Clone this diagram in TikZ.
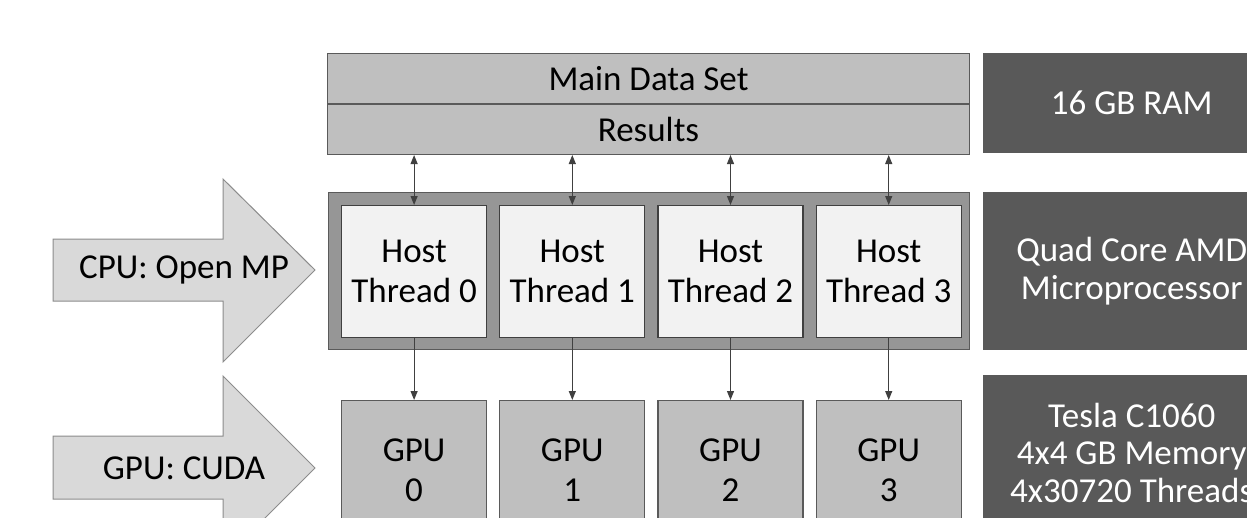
\documentclass[tikz,border=0pt]{standalone}
\usepackage{fontspec}
\setmainfont{Carlito}
\usepackage{tikz}
\usetikzlibrary{positioning}
\usetikzlibrary{arrows.meta}
\definecolor{memFill}{HTML}{BFBFBF}
\definecolor{memBorder}{HTML}{5A5A5A}
\definecolor{hostFill}{HTML}{969696}
\definecolor{threadFill}{HTML}{F2F2F2}
\definecolor{infoFill}{HTML}{595959}
\definecolor{bigFill}{HTML}{D9D9D9}
\definecolor{bigBorder}{HTML}{8C8C8C}
\definecolor{linkColor}{HTML}{404040}
\tikzstyle{boxtext} = [font={\fontsize{35}{40}\selectfont}, align=center, inner sep=0pt]
\tikzstyle{memory} = [boxtext, rectangle, draw=memBorder, fill=memFill, line width=1pt,
        minimum width=642pt, minimum height=50pt]
\tikzstyle{host} = [rectangle, draw=memBorder, fill=hostFill, line width=1.2pt,
        minimum width=641pt, minimum height=157pt, inner sep=0pt]
\tikzstyle{thread} = [boxtext, rectangle, draw=linkColor, fill=threadFill, line width=1.2pt,
        minimum width=145pt, minimum height=132pt]
\tikzstyle{gpu} = [boxtext, rectangle, draw=memBorder, fill=memFill, line width=1.2pt,
        minimum width=145pt, minimum height=140pt]
\tikzstyle{info} = [boxtext, rectangle, fill=infoFill, text=white,
        font={\fontsize{35}{37.5}\selectfont}, minimum width=297pt]
\tikzstyle{bigarrow} = [fill=bigFill, draw=bigBorder, line width=1pt, line join=miter]
\tikzstyle{api} = [font={\fontsize{35}{40}\selectfont}, inner sep=0pt]
\tikzstyle{link} = [draw=linkColor, line width=1.1pt]

\begin{document}
\begin{tikzpicture}[x=1pt, y=-1pt, >={Triangle[length=9pt,width=7pt]}]
        \useasboundingbox (0,0) rectangle (1247,517);
        \clip (0,0) rectangle (1247,517);
        % shared memory
        \node [memory, anchor=north west] (data) at (327,53) {Main Data Set};
        \node [memory, below=0pt of data] (results) {Results};
        % cpu threads
        \node [host, anchor=north west] (host) at (328,192) {};
        \node [thread, anchor=north west] (t0) at (341,205) {Host\\Thread 0};
        \node [thread, right=12pt of t0] (t1) {Host\\Thread 1};
        \node [thread, right=12pt of t1] (t2) {Host\\Thread 2};
        \node [thread, right=12pt of t2] (t3) {Host\\Thread 3};
        % gpus
        \node [gpu, anchor=north west] (g0) at (341,400) {GPU\\0};
        \node [gpu, right=12pt of g0] (g1) {GPU\\1};
        \node [gpu, right=12pt of g1] (g2) {GPU\\2};
        \node [gpu, right=12pt of g2] (g3) {GPU\\3};
        % hardware
        \node [info, anchor=north west, minimum height=100pt] (ram) at (983,53) {16 GB RAM};
        \node [info, anchor=north west, minimum height=158pt] (cpuhw) at (983,192) {Quad Core AMD\\Microprocessor};
        \node [info, anchor=north west, minimum height=155pt] (gpuhw) at (983,375) {Tesla C1060\\4x4 GB Memory\\4x30720 Threads};
        % big arrows
        \draw [bigarrow] (53,239) -- (223,239) -- (223,179) -- (315,270) -- (223,362) -- (223,301) -- (53,301) -- cycle;
        \node [api] (openmp) at (184,270) {CPU: Open MP};
        \draw [bigarrow] (53,436) -- (223,436) -- (223,376) -- (315,468) -- (223,560) -- (223,499) -- (53,499) -- cycle;
        \node [api] (cuda) at (184,468) {GPU: CUDA};
        % links
        \draw [link, <->] (t0.north |- results.south) -- (t0.north);
        \draw [link, <->] (t1.north |- results.south) -- (t1.north);
        \draw [link, <->] (t2.north |- results.south) -- (t2.north);
        \draw [link, <->] (t3.north |- results.south) -- (t3.north);
        \draw [link, ->] (t0.south) -- (g0.north);
        \draw [link, ->] (t1.south) -- (g1.north);
        \draw [link, ->] (t2.south) -- (g2.north);
        \draw [link, ->] (t3.south) -- (g3.north);
\end{tikzpicture}
\end{document}
